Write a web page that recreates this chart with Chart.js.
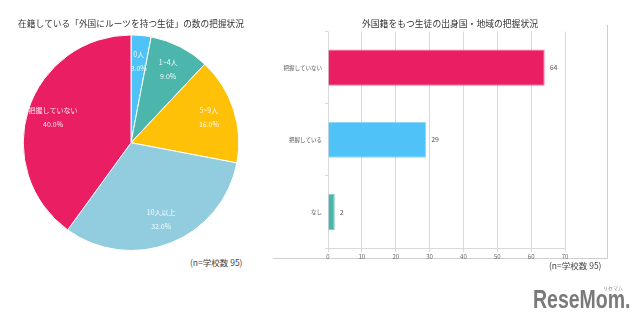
<!DOCTYPE html>
<html>
<head>
<meta charset="utf-8">
<script src="https://cdn.jsdelivr.net/npm/chart.js@4/dist/chart.umd.min.js"></script>
<style>
  body { margin: 0; background: #fff; width: 640px; height: 329px; position: relative; overflow: hidden; font-family: "Noto Sans CJK JP", sans-serif; }
  #pieBox { position: absolute; left: 0; top: 0; width: 262px; height: 251px; }
  #barBox { position: absolute; left: 280px; top: 0; width: 340px; height: 262px; }
  .note { position: absolute; font-size: 8.5px; color: #444; white-space: nowrap; }
  #frame { position: absolute; left: 273px; top: 25px; width: 334px; height: 233px; border-right: 1px solid #cfcfcf; border-bottom: 1px solid #cfcfcf; }
  #logo { position: absolute; left: 533px; top: 285px; font-family: "Liberation Sans", sans-serif; font-weight: bold; font-size: 25px; color: #7a7a7a; transform: scaleX(0.78); transform-origin: left top; white-space: nowrap; }
  #logoKana { position: absolute; left: 603px; top: 284px; font-size: 5px; color: #888; }
</style>
</head>
<body>
<div id="frame"></div>
<div id="pieBox"><canvas id="pie"></canvas></div>
<div id="barBox"><canvas id="bar"></canvas></div>
<div class="note" style="left:190px; top:256px;">(n=学校数 95)</div>
<div class="note" style="left:549px; top:259px;">(n=学校数 95)</div>
<div id="logoKana">リセマム</div>
<div id="logo">ReseMom.</div>
<script>
Chart.defaults.font.family = '"Noto Sans CJK JP", sans-serif';
Chart.defaults.color = '#555';

// 左: 在籍している「外国にルーツを持つ生徒」の数
var pieCategories = ["0人", "1~4人", "5~9人", "10人以上", "把握していない"];
var pieShares = [3.0, 9.0, 16.0, 32.0, 40.0];
var pieColors = ["#4fc3f7", "#4db6ac", "#ffc107", "#92cddf", "#e91e63"];

// 右: 出身国・地域の把握状況
var barCategories = ["把握していない", "把握している", "なし"];
var barValues = [64, 29, 2];
var barColors = ["#e91e63", "#4fc3f7", "#4db6ac"];
var barBorders = ["#f06f9c", "#8ad6f8", "#86cdc6"];
var xTicks = [0, 10, 20, 30, 40, 50, 60, 70];

// 円グラフの中にラベルを書く
const pieLabels = {
  id: 'pieLabels',
  afterDatasetsDraw(chart) {
    const ctx = chart.ctx;
    const meta = chart.getDatasetMeta(0);
    ctx.save();
    ctx.fillStyle = 'rgba(255,255,255,0.92)';
    ctx.font = '7px "Noto Sans CJK JP"';
    ctx.textAlign = 'center';
    ctx.textBaseline = 'middle';
    meta.data.forEach((arc, i) => {
      const p = arc.getProps(['x', 'y', 'startAngle', 'endAngle', 'outerRadius'], true);
      const mid = (p.startAngle + p.endAngle) / 2;
      const r = p.outerRadius * 0.76;
      const x = p.x + Math.cos(mid) * r;
      const y = p.y + Math.sin(mid) * r;
      ctx.fillText(pieCategories[i], x, y - 7);
      ctx.fillText(pieShares[i].toFixed(1) + '%', x, y + 7);
    });
    ctx.restore();
  }
};

// 棒の右に値
const barLabels = {
  id: 'barLabels',
  afterDatasetsDraw(chart) {
    const ctx = chart.ctx;
    const meta = chart.getDatasetMeta(0);
    ctx.save();
    ctx.fillStyle = '#555';
    ctx.font = '7px "Noto Sans CJK JP"';
    ctx.textAlign = 'left';
    ctx.textBaseline = 'middle';
    meta.data.forEach((bar, i) => {
      ctx.fillText(String(barValues[i]), bar.x + 5, bar.y);
    });
    ctx.restore();
  }
};

new Chart(document.getElementById('pie'), {
  type: 'pie',
  data: {
    labels: pieCategories,
    datasets: [{
      data: pieShares,
      backgroundColor: pieColors,
      borderColor: '#fff',
      borderWidth: 1
    }]
  },
  options: {
    responsive: true,
    maintainAspectRatio: false,
    animation: false,
    layout: { padding: 0 },
    plugins: {
      legend: { display: false },
      tooltip: { enabled: false },
      title: {
        display: true,
        text: '在籍している「外国にルーツを持つ生徒」の数の把握状況',
        color: '#333',
        font: { size: 8.7, weight: 'normal' },
        padding: { top: 18, bottom: 6 }
      }
    }
  },
  plugins: [pieLabels]
});

new Chart(document.getElementById('bar'), {
  type: 'bar',
  data: {
    labels: barCategories,
    datasets: [{
      data: barValues,
      backgroundColor: barColors,
      borderColor: barBorders,
      borderWidth: 1,
      categoryPercentage: 1,
      barPercentage: 0.5
    }]
  },
  options: {
    indexAxis: 'y',
    responsive: true,
    maintainAspectRatio: false,
    animation: false,
    layout: { padding: 0 },
    plugins: {
      legend: { display: false },
      tooltip: { enabled: false },
      title: {
        display: true,
        text: '外国籍をもつ生徒の出身国・地域の把握状況',
        color: '#333',
        font: { size: 8.8, weight: 'normal' },
        padding: { top: 18, bottom: 3 }
      }
    },
    scales: {
      x: {
        min: 0,
        max: 70,
        afterBuildTicks: (scale) => { scale.ticks = xTicks.map(v => ({ value: v })); },
        afterFit: (scale) => { scale.height = 14; },
        grid: { color: '#d9d9d9', tickLength: 4, tickColor: '#d9d9d9' },
        border: { color: '#d9d9d9' },
        ticks: { font: { size: 6 }, color: '#666', padding: 1, maxRotation: 0 }
      },
      y: {
        afterFit: (scale) => { scale.width = 48; },
        grid: { drawOnChartArea: false, tickLength: 3, color: '#d9d9d9' },
        border: { display: false },
        ticks: { font: { size: 5.5 }, color: '#555', padding: 3 }
      },
      // 右側の余白用 (表示なし)
      yRight: {
        type: 'category',
        position: 'right',
        afterFit: (scale) => { scale.width = 55; },
        grid: { display: false },
        border: { display: false },
        ticks: { display: false }
      }
    }
  },
  plugins: [barLabels]
});
</script>
</body>
</html>
